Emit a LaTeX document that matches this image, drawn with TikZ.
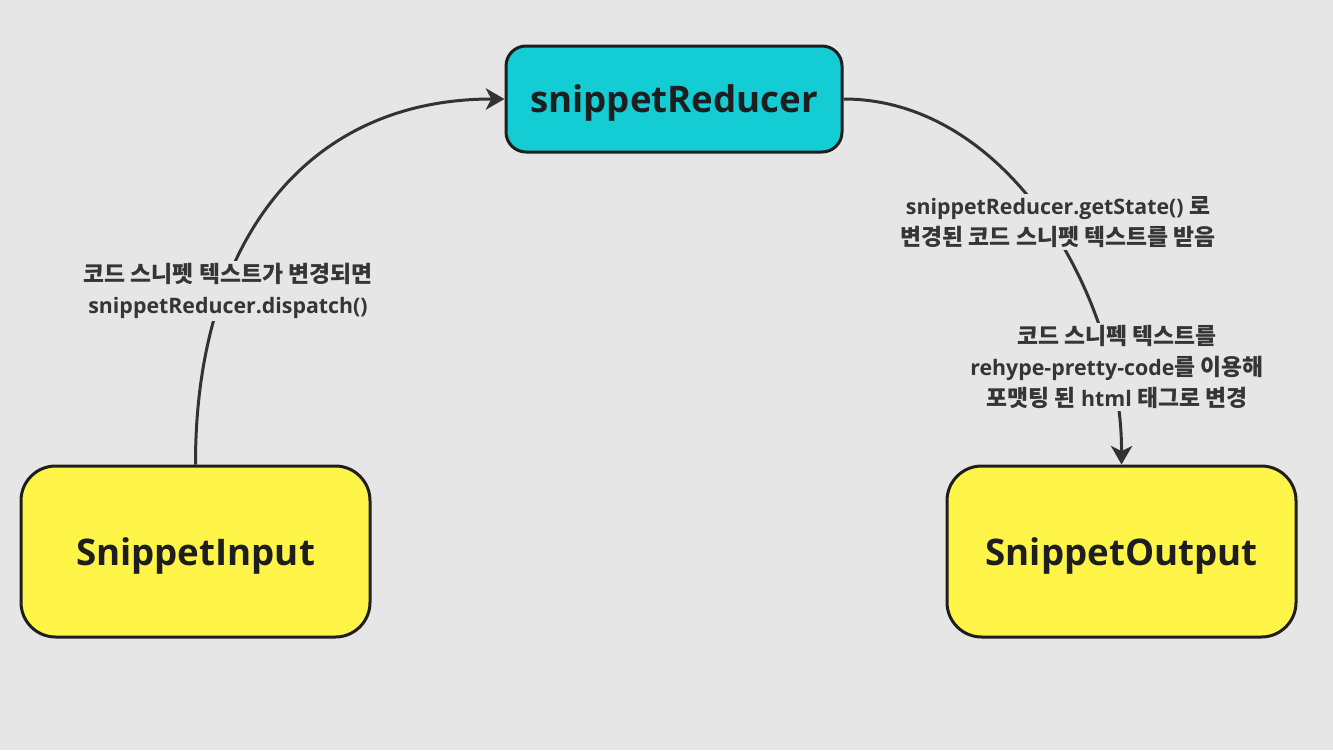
\documentclass[tikz,border=0pt]{standalone}
\usepackage{fontspec}
\setmainfont{Open Sans}
\newfontfamily\ko{Noto Sans CJK KR}[Scale=1.07]
\usetikzlibrary{arrows.meta}
\definecolor{bg}{HTML}{E6E6E6}
\definecolor{cyanfill}{HTML}{14CDD4}
\definecolor{yellowfill}{HTML}{FFF548}
\definecolor{edge}{HTML}{1E1E1E}
\definecolor{lbl}{HTML}{353535}
\definecolor{conn}{HTML}{333333}
\tikzset{
  box/.style={draw=edge, line width=2.25pt, text=edge, inner sep=0pt,
    text depth=0pt, font=\bfseries\fontsize{27.5}{32}\selectfont},
  topbox/.style={box, fill=cyanfill, rounded corners=15pt,
    minimum width=252pt, minimum height=79.5pt},
  sidebox/.style={box, fill=yellowfill, rounded corners=26pt,
    minimum width=261.75pt, minimum height=128.25pt},
  conn/.style={draw=conn, line width=2.25pt,
    -{Stealth[length=14pt,width=16pt,inset=4pt]}},
  lab/.style={fill=bg, text=lbl, align=center, inner sep=2pt,
    font=\bfseries\fontsize{16}{23}\selectfont}
}
\begin{document}
\begin{tikzpicture}[x=0.75pt,y=-0.75pt]
\fill[bg] (0,0) rectangle (1333,750);
\useasboundingbox (0,0) rectangle (1333,750);
\node[topbox] (red) at (674,99) {snippetReducer};
\node[sidebox] (in) at (195.5,551.5) {SnippetInput};
\node[sidebox] (out) at (1121.5,551.5) {SnippetOutput};
\draw[conn] (in.north) .. controls (195,250) and (300,99) .. (red.west);
\draw[conn] (red.east) .. controls (1010,99) and (1122,300) .. (out.north);
\node[lab] (l1) at (228,291) {{\ko 코드 스니펫 텍스트가 변경되면}\\snippetReducer.dispatch()};
\node[lab] (l2) at (1058,222) {snippetReducer.getState() {\ko 로}\\{\ko 변경된 코드 스니펫 텍스트를 받음}};
\node[lab] (l3) at (1117,367) {{\ko 코드 스니펙 텍스트를}\\rehype-pretty-code{\ko 를 이용해}\\{\ko 포맷팅 된} html {\ko 태그로 변경}};
\end{tikzpicture}
\end{document}
